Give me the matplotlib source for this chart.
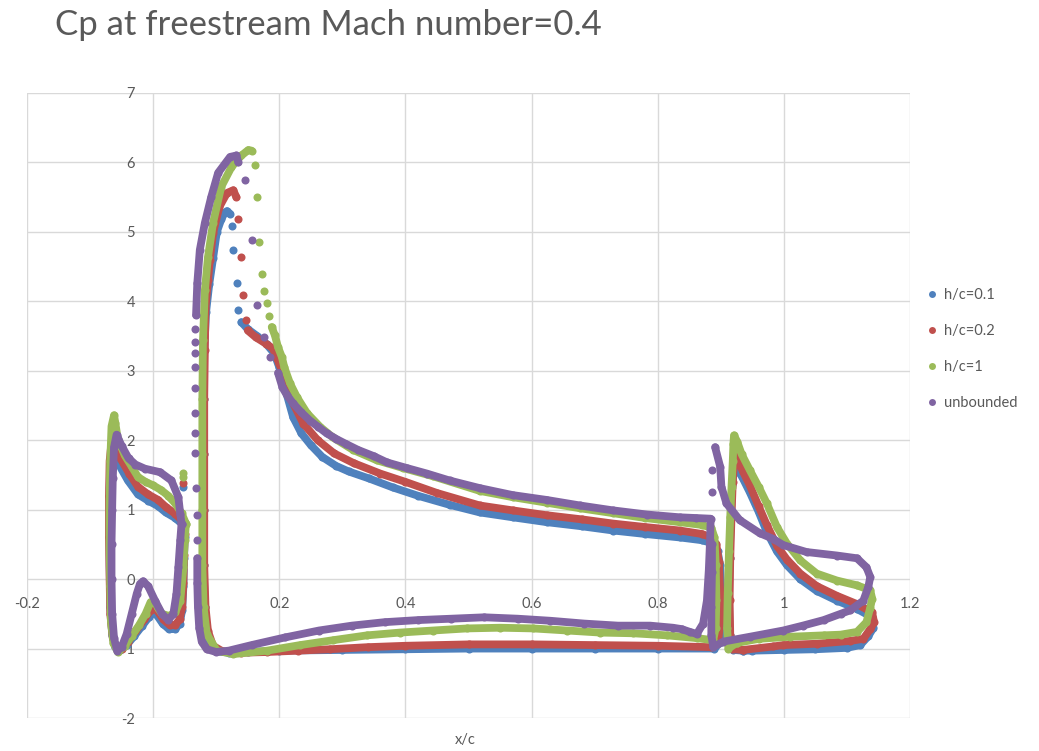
import matplotlib
matplotlib.use("Agg")
import matplotlib.pyplot as plt
from matplotlib.lines import Line2D

plt.rcParams["font.family"] = ["Lato", "DejaVu Sans"]
plt.rcParams["axes.unicode_minus"] = False

# Cp samples (x/c, Cp) read per element; dense runs are drawn as bands, sparse ones as dots
LABELS = ["h/c=0.1", "h/c=0.2", "h/c=1", "unbounded"]
COLORS = ["#4F81BD", "#C0504D", "#9BBB59", "#8064A2"]

X_TICKS = [-0.2, 0, 0.2, 0.4, 0.6, 0.8, 1, 1.2]
X_TICK_LABELS = ["-0.2", "0", "0.2", "0.4", "0.6", "0.8", "1", "1.2"]
Y_TICKS = [-2, -1, 0, 1, 2, 3, 4, 5, 6, 7]

# ---- h/c = 0.1 ----
blue_slat = [
    (0.050, 0.78), (0.045, 0.80), (0.035, 0.88), (0.020, 0.96), (0.008, 1.05),
    (-0.008, 1.13), (-0.024, 1.22), (-0.040, 1.42), (-0.050, 1.58), (-0.058, 1.72),
    (-0.064, 1.80), (-0.068, 1.70), (-0.069, 1.30), (-0.069, 0.80), (-0.069, 0.20),
    (-0.068, -0.40), (-0.065, -0.80), (-0.060, -0.98), (-0.052, -1.02), (-0.042, -0.95),
    (-0.030, -0.82), (-0.018, -0.68), (-0.007, -0.55), (0.000, -0.47), (0.006, -0.52),
    (0.015, -0.64), (0.025, -0.72), (0.035, -0.72), (0.042, -0.64), (0.046, -0.45),
    (0.048, -0.10), (0.049, 0.30), (0.050, 0.60), (0.050, 0.78),
]
blue_main = [
    (0.140, 3.70), (0.150, 3.60), (0.165, 3.50), (0.180, 3.38), (0.192, 3.25),
    (0.200, 3.05), (0.210, 2.72), (0.222, 2.33), (0.235, 2.10), (0.250, 1.93),
    (0.268, 1.76), (0.290, 1.63), (0.310, 1.55), (0.342, 1.45), (0.380, 1.32),
    (0.420, 1.20), (0.470, 1.07), (0.518, 0.96), (0.570, 0.89), (0.624, 0.82),
    (0.680, 0.76), (0.729, 0.70), (0.780, 0.65), (0.835, 0.60), (0.870, 0.56),
    (0.885, 0.52), (0.895, 0.40), (0.899, 0.20), (0.901, -0.20), (0.902, -0.60),
    (0.900, -0.90), (0.890, -1.00), (0.800, -1.00), (0.700, -1.00), (0.600, -1.00),
    (0.500, -1.00), (0.400, -1.01), (0.300, -1.02), (0.200, -1.03), (0.150, -1.05),
    (0.120, -1.06), (0.100, -1.04), (0.090, -0.95), (0.085, -0.75), (0.082, -0.40),
    (0.080, 0.20), (0.080, 1.00), (0.080, 1.80), (0.080, 2.60), (0.081, 3.30),
    (0.084, 3.85), (0.089, 4.25), (0.095, 4.62), (0.101, 5.00), (0.108, 5.18),
    (0.113, 5.27), (0.117, 5.30), (0.122, 5.26),
]
blue_flap = [
    (0.935, -1.03), (0.920, -1.02), (0.914, -0.80), (0.913, -0.30), (0.914, 0.30),
    (0.916, 0.90), (0.918, 1.35), (0.921, 1.58), (0.923, 1.64), (0.935, 1.45),
    (0.946, 1.25), (0.960, 0.97), (0.973, 0.68), (0.989, 0.40), (1.005, 0.20),
    (1.026, 0.00), (1.052, -0.17), (1.084, -0.31), (1.116, -0.43), (1.140, -0.55),
    (1.142, -0.70), (1.134, -0.82), (1.121, -0.95), (1.100, -0.99), (1.050, -1.01),
    (1.000, -1.02), (0.950, -1.03), (0.935, -1.03),
]
blue_dots = [(0.125, 5.09), (0.127, 4.74), (0.133, 4.27), (0.135, 3.87), (0.047, 1.33)]

# ---- h/c = 0.2 ----
red_slat = [
    (0.050, 0.80), (0.045, 0.85), (0.035, 0.94), (0.020, 1.04), (0.008, 1.14),
    (-0.008, 1.22), (-0.024, 1.33), (-0.038, 1.52), (-0.050, 1.71), (-0.060, 1.83),
    (-0.067, 1.88), (-0.069, 1.70), (-0.070, 1.20), (-0.070, 0.60), (-0.069, 0.00),
    (-0.068, -0.50), (-0.064, -0.85), (-0.058, -1.00), (-0.050, -1.00), (-0.040, -0.90),
    (-0.028, -0.75), (-0.014, -0.58), (-0.004, -0.45), (0.001, -0.40), (0.007, -0.46),
    (0.016, -0.58), (0.026, -0.66), (0.035, -0.66), (0.042, -0.58), (0.046, -0.40),
    (0.048, -0.05), (0.049, 0.35), (0.050, 0.65), (0.050, 0.80),
]
red_main = [
    (0.150, 3.58), (0.163, 3.48), (0.179, 3.39), (0.190, 3.32), (0.200, 3.10),
    (0.212, 2.82), (0.222, 2.53), (0.238, 2.24), (0.261, 2.00), (0.287, 1.81),
    (0.318, 1.67), (0.360, 1.52), (0.400, 1.40), (0.450, 1.24), (0.518, 1.06),
    (0.570, 0.99), (0.624, 0.92), (0.680, 0.86), (0.729, 0.80), (0.780, 0.75),
    (0.835, 0.70), (0.870, 0.65), (0.885, 0.60), (0.893, 0.50), (0.897, 0.25),
    (0.899, -0.20), (0.899, -0.60), (0.896, -0.90), (0.885, -0.98), (0.800, -0.96),
    (0.700, -0.95), (0.600, -0.94), (0.500, -0.94), (0.400, -0.96), (0.340, -0.98),
    (0.280, -1.01), (0.230, -1.03), (0.180, -1.05), (0.140, -1.06), (0.110, -1.04),
    (0.095, -0.96), (0.087, -0.75), (0.083, -0.40), (0.081, 0.20), (0.081, 1.00),
    (0.081, 1.80), (0.081, 2.60), (0.082, 3.30), (0.083, 3.90), (0.087, 4.30),
    (0.090, 4.60), (0.095, 4.98), (0.105, 5.36), (0.117, 5.56), (0.127, 5.60),
    (0.132, 5.50),
]
red_flap = [
    (0.935, -1.02), (0.918, -1.01), (0.915, -0.80), (0.914, -0.30), (0.915, 0.30),
    (0.917, 0.90), (0.919, 1.40), (0.921, 1.68), (0.925, 1.76), (0.935, 1.55),
    (0.946, 1.35), (0.960, 1.05), (0.973, 0.78), (0.989, 0.48), (1.005, 0.28),
    (1.026, 0.08), (1.052, -0.10), (1.084, -0.24), (1.116, -0.36), (1.140, -0.48),
    (1.143, -0.62), (1.137, -0.72), (1.126, -0.86), (1.105, -0.89), (1.053, -0.93),
    (0.999, -0.95), (0.983, -0.97), (0.935, -1.02),
]
red_dots = [(0.135, 5.19), (0.140, 4.64), (0.143, 4.09), (0.147, 3.73), (0.047, 1.38)]

# ---- h/c = 1 ----
green_slat = [
    (0.052, 0.80), (0.045, 0.95), (0.035, 1.09), (0.024, 1.20), (0.013, 1.28),
    (0.000, 1.35), (-0.012, 1.40), (-0.024, 1.47), (-0.034, 1.62), (-0.045, 1.78),
    (-0.056, 2.02), (-0.060, 2.25), (-0.062, 2.36), (-0.066, 2.20), (-0.068, 1.70),
    (-0.069, 1.10), (-0.069, 0.50), (-0.068, -0.10), (-0.067, -0.60), (-0.063, -0.92),
    (-0.056, -1.05), (-0.045, -0.96), (-0.034, -0.82), (-0.022, -0.66), (-0.012, -0.50),
    (-0.004, -0.33), (0.002, -0.32), (0.008, -0.42), (0.014, -0.50), (0.025, -0.53),
    (0.035, -0.48), (0.043, -0.31), (0.048, 0.17), (0.050, 0.56), (0.052, 0.80),
]
green_main = [
    (0.188, 3.63), (0.193, 3.51), (0.198, 3.34), (0.204, 3.20), (0.208, 3.05),
    (0.217, 2.82), (0.228, 2.62), (0.244, 2.39), (0.265, 2.19), (0.285, 2.04),
    (0.317, 1.86), (0.355, 1.71), (0.396, 1.60), (0.444, 1.48), (0.518, 1.27),
    (0.570, 1.18), (0.624, 1.10), (0.677, 1.02), (0.729, 0.95), (0.780, 0.88),
    (0.835, 0.82), (0.870, 0.78), (0.885, 0.74), (0.890, 0.60), (0.892, 0.20),
    (0.893, -0.30), (0.892, -0.70), (0.888, -0.88), (0.862, -0.85), (0.815, -0.81),
    (0.761, -0.78), (0.709, -0.77), (0.656, -0.74), (0.602, -0.71), (0.550, -0.70),
    (0.498, -0.71), (0.444, -0.74), (0.391, -0.77), (0.339, -0.81), (0.285, -0.88),
    (0.233, -0.95), (0.181, -1.03), (0.127, -1.08), (0.101, -1.03), (0.085, -0.79),
    (0.080, -0.40), (0.078, 0.20), (0.078, 1.00), (0.078, 1.80), (0.078, 2.60),
    (0.079, 3.44), (0.082, 4.16), (0.087, 4.64), (0.095, 5.13), (0.108, 5.65),
    (0.124, 5.93), (0.140, 6.10), (0.151, 6.18), (0.156, 6.17),
]
green_flap = [
    (0.925, -0.92), (0.912, -1.00), (0.910, -0.70), (0.911, -0.20), (0.913, 0.40),
    (0.915, 0.90), (0.917, 1.33), (0.919, 1.70), (0.920, 1.95), (0.921, 2.07),
    (0.926, 1.98), (0.933, 1.80), (0.946, 1.57), (0.960, 1.33), (0.973, 1.09),
    (0.989, 0.75), (1.005, 0.51), (1.026, 0.27), (1.052, 0.08), (1.084, -0.02),
    (1.116, -0.09), (1.137, -0.16), (1.140, -0.28), (1.137, -0.41), (1.131, -0.62),
    (1.116, -0.76), (1.090, -0.80), (1.063, -0.81), (1.010, -0.83), (0.960, -0.86),
    (0.925, -0.92),
]
green_dots = [
    (0.161, 5.96), (0.164, 5.50), (0.168, 4.85), (0.172, 4.40), (0.176, 4.15),
    (0.180, 3.97), (0.183, 3.79), (0.047, 1.47), (0.047, 1.53),
]

# ---- unbounded ----
purple_slat = [
    (0.045, 0.80), (0.043, 0.94), (0.040, 1.18), (0.029, 1.42), (0.011, 1.54),
    (-0.013, 1.59), (-0.028, 1.65), (-0.039, 1.74), (-0.050, 1.92), (-0.058, 2.08),
    (-0.062, 1.90), (-0.064, 1.45), (-0.065, 1.00), (-0.066, 0.50), (-0.066, 0.00),
    (-0.065, -0.50), (-0.062, -0.85), (-0.057, -1.03), (-0.050, -0.98), (-0.042, -0.79),
    (-0.034, -0.50), (-0.026, -0.21), (-0.021, -0.07), (-0.016, -0.03), (-0.008, -0.10),
    (0.003, -0.31), (0.014, -0.50), (0.024, -0.59), (0.032, -0.50), (0.037, -0.21),
    (0.040, 0.17), (0.043, 0.56), (0.045, 0.80),
]
purple_main = [
    (0.198, 2.97), (0.205, 2.76), (0.212, 2.65), (0.222, 2.53), (0.235, 2.40),
    (0.249, 2.28), (0.262, 2.19), (0.275, 2.10), (0.290, 2.02), (0.305, 1.95),
    (0.325, 1.86), (0.350, 1.77), (0.371, 1.68), (0.402, 1.60), (0.434, 1.52),
    (0.470, 1.42), (0.518, 1.31), (0.570, 1.21), (0.624, 1.14), (0.677, 1.06),
    (0.729, 0.99), (0.783, 0.93), (0.835, 0.89), (0.860, 0.88), (0.884, 0.87),
    (0.883, 0.56), (0.881, 0.13), (0.878, -0.31), (0.872, -0.64), (0.862, -0.79),
    (0.851, -0.76), (0.838, -0.72), (0.824, -0.70), (0.788, -0.67), (0.737, -0.67),
    (0.683, -0.64), (0.630, -0.60), (0.578, -0.57), (0.525, -0.55), (0.473, -0.57),
    (0.420, -0.59), (0.367, -0.62), (0.315, -0.67), (0.263, -0.74), (0.209, -0.84),
    (0.156, -0.95), (0.120, -1.03), (0.100, -1.05), (0.085, -1.01), (0.077, -0.90),
    (0.073, -0.70), (0.071, -0.40), (0.070, -0.05), (0.070, 0.30),
]
purple_nose = [
    (0.068, 3.80), (0.070, 4.26), (0.074, 4.74), (0.082, 5.13), (0.092, 5.50),
    (0.103, 5.85), (0.122, 6.08), (0.132, 6.10), (0.135, 6.00),
]
purple_flap = [
    (0.886, 0.50), (0.886, 0.10), (0.885, -0.40), (0.885, -0.80), (0.888, -0.98),
    (0.904, -0.90), (0.946, -0.83), (0.999, -0.74), (1.030, -0.67), (1.063, -0.59),
    (1.090, -0.50), (1.105, -0.45), (1.126, -0.31), (1.134, -0.11), (1.137, 0.03),
    (1.131, 0.17), (1.116, 0.30), (1.084, 0.34), (1.036, 0.39), (0.999, 0.49),
    (0.983, 0.58), (0.962, 0.66), (0.930, 0.85), (0.909, 1.09), (0.901, 1.33),
    (0.899, 1.62), (0.891, 1.90),
]
purple_dots = [
    (0.070, 0.56), (0.069, 0.92), (0.068, 1.31), (0.067, 1.81), (0.067, 2.10),
    (0.066, 2.39), (0.066, 2.75), (0.066, 3.06), (0.067, 3.25), (0.066, 3.42),
    (0.067, 3.60), (0.146, 5.75), (0.156, 4.88), (0.164, 3.95), (0.175, 3.49),
    (0.185, 3.20), (0.886, 1.26), (0.886, 1.57),
]

series = [
    ([blue_slat, blue_main, blue_flap], blue_dots),
    ([red_slat, red_main, red_flap], red_dots),
    ([green_slat, green_main, green_flap], green_dots),
    ([purple_slat, purple_main, purple_nose, purple_flap], purple_dots),
]

fig = plt.figure(figsize=(10.39, 7.51), dpi=100)
ax = fig.add_axes([27 / 1039, 1 - 718 / 751, 883 / 1039, 625 / 751])

MS = 5.8
for i, ((runs, dots), color) in enumerate(zip(series, COLORS)):
    z = 3 + i
    for run in runs:
        xs, ys = zip(*run)
        ax.plot(xs, ys, color=color, lw=5.6, marker="o", ms=MS, mew=0,
                solid_capstyle="round", solid_joinstyle="round", zorder=z)
    xs, ys = zip(*dots)
    ax.plot(xs, ys, ls="none", marker="o", ms=MS, mew=0, color=color, zorder=z)

ax.set_xlim(-0.2, 1.2)
ax.set_ylim(-2, 7)
ax.set_xticks(X_TICKS, X_TICK_LABELS)
ax.set_yticks(Y_TICKS, [str(v) for v in Y_TICKS])
ax.grid(True, color="#D9D9D9", lw=1.0, zorder=0)
ax.set_axisbelow(True)

# axes cross at the origin, like a spreadsheet scatter chart
ax.spines["left"].set_position(("data", 0))
ax.spines["bottom"].set_position(("data", 0))
for s in ax.spines.values():
    s.set_visible(False)
ax.tick_params(length=0, labelsize=10.5, labelcolor="#595959")
ax.tick_params(axis="x", pad=13)
ax.tick_params(axis="y", pad=13)

fig.text(55 / 1039, 1 - 25 / 751, "Cp at freestream Mach number=0.4",
         fontsize=25, color="#595959", va="center", ha="left")
fig.text(465 / 1039, 1 - 740 / 751, "x/c", fontsize=10.5, color="#595959",
         va="center", ha="center")

handles = [Line2D([], [], ls="none", marker="o", ms=5, mew=0, color=c) for c in COLORS]
fig.legend(handles, LABELS, loc="center left", bbox_to_anchor=(928 / 1039, 1 - 349 / 751),
           frameon=False, fontsize=10.5, labelcolor="#595959", handlelength=0.6,
           handletextpad=0.5, labelspacing=1.5, borderpad=0, borderaxespad=0)

fig.savefig("out.png", dpi=100)
